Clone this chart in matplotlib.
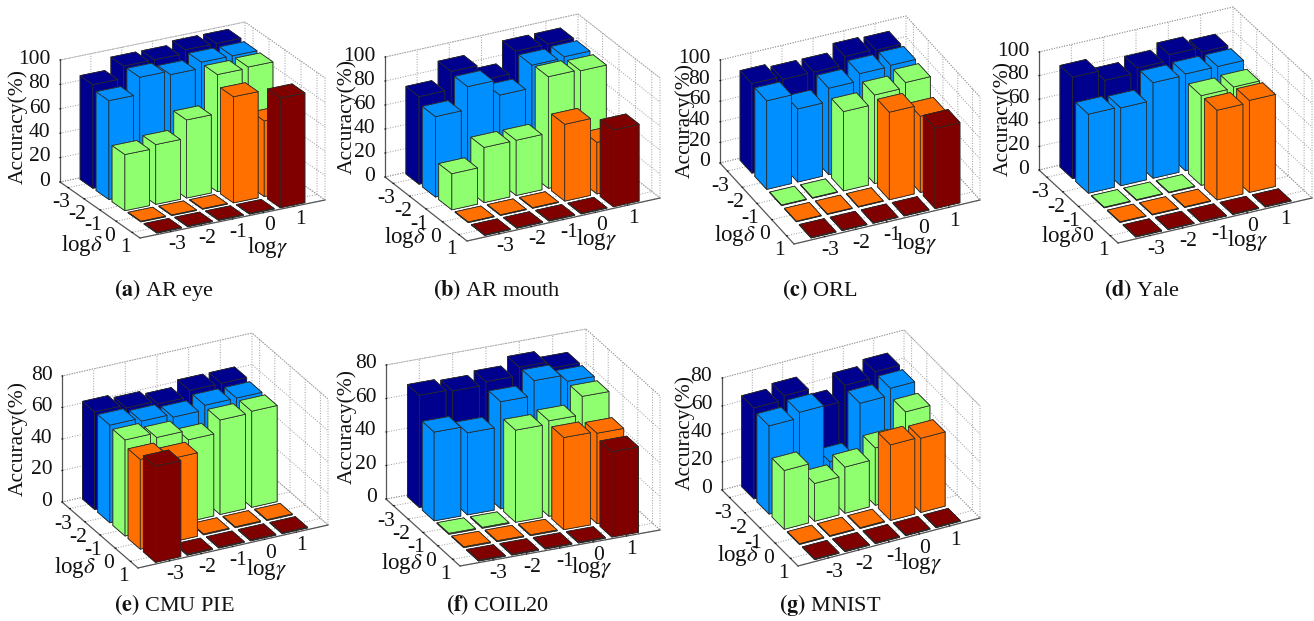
import numpy as np
import matplotlib
matplotlib.use("Agg")
import matplotlib.pyplot as plt
from mpl_toolkits.mplot3d import proj3d

plt.rcParams['font.family'] = ['Liberation Serif', 'DejaVu Serif']
plt.rcParams['mathtext.fontset'] = 'stix'
plt.rcParams['axes.unicode_minus'] = False

W, H = 1314, 621

gamma = [-3, -2, -1, 0, 1]
delta = [-3, -2, -1, 0, 1]
row_colors = ['#00008F', '#008FFF', '#8FFF70', '#FF7000', '#800000']

# rows: delta = -3 .. 1; columns: gamma = -3 .. 1
ar_eye = [[85, 95, 95, 98, 98],
          [81, 95, 92, 97, 97],
          [46, 49, 64, 96, 97],
          [.5, .5, .5, 87, 62],
          [.5, .5, .5, .5, 90]]
ar_mouth = [[73, 88, 75, 93, 93],
            [67, 86, 73, 92, 93],
            [30, 46, 46, 93, 92],
            [.5, .5, .5, 64, 43],
            [.5, .5, .5, .5, 64]]
orl = [[87, 84, 84, 92, 91],
       [86, 71, 84, 91, 92],
       [.5, .5, 77, 86, 91],
       [.5, .5, .5, 85, 74],
       [.5, .5, .5, .5, 78]]
yale = [[86, 77, 81, 86, 82],
        [67, 66, 81, 82, 82],
        [.5, .5, .5, 76, 77],
        [.5, .5, .5, 76, 78],
        [.5, .5, .5, .5, .5]]
cmu_pie = [[62, 60, 58, 62, 62],
           [62, 60, 58, 61, 61],
           [61, 58, 52, 60, 61],
           [57, 53, .5, .5, .5],
           [61, .5, .5, .5, .5]]
coil20 = [[67, 66, 68, 73, 69],
          [53, 49, 64, 73, 69],
          [.5, .5, 55, 57, 68],
          [.5, .5, .5, 55, 54],
          [.5, .5, .5, .5, 51]]
mnist = [[65, 68, 53, 64, 68],
         [63, 67, 26, 62, 67],
         [42, 27, 33, 41, 61],
         [.5, .5, .5, 54, 53],
         [.5, .5, .5, .5, .5]]

Z100 = [0, 20, 40, 60, 80, 100]
Z80 = [0, 20, 40, 60, 80]
panels = [
    dict(v=ar_eye, cap=r'$\mathbf{(a)}$ AR eye', zt=Z100,
         F=(140, 238), L=(60, 182), R=(325, 200), top=60, c=(164, 290),
         ld=(82, 245), lg=(268, 248), lz=(18, 126)),
    dict(v=ar_mouth, cap=r'$\mathbf{(b)}$ AR mouth', zt=Z100,
         F=(467, 241), L=(385, 177), R=(660, 198), top=57, c=(497, 290),
         ld=(405, 238), lg=(597, 240), lz=(347, 117)),
    dict(v=orl, cap=r'$\mathbf{(c)}$ ORL', zt=Z100,
         F=(794, 244), L=(720, 163), R=(980, 200), top=60, c=(820, 290),
         ld=(735, 235), lg=(917, 243), lz=(685, 120)),
    dict(v=yale, cap=r'$\mathbf{(d)}$ Yale', zt=Z100,
         F=(1118, 243), L=(1039, 170), R=(1312, 198), top=52, c=(1142, 290),
         ld=(1062, 237), lg=(1248, 241), lz=(1003, 119)),
    dict(v=cmu_pie, cap=r'$\mathbf{(e)}$ CMU PIE', zt=Z80,
         F=(138, 568), L=(62, 502), R=(328, 525), top=376, c=(174, 605),
         ld=(75, 567), lg=(267, 569), lz=(18, 438)),
    dict(v=coil20, cap=r'$\mathbf{(f)}$ COIL20', zt=Z80,
         F=(460, 566), L=(386, 499), R=(660, 530), top=365, c=(498, 605),
         ld=(402, 563), lg=(592, 568), lz=(347, 427)),
    dict(v=mnist, cap=r'$\mathbf{(g)}$ MNIST', zt=Z80,
         F=(798, 566), L=(722, 490), R=(980, 518), top=378, c=(830, 605),
         ld=(738, 556), lg=(922, 563), lz=(685, 432)),
]

fig = plt.figure(figsize=(W / 100, H / 100), dpi=100, facecolor='white')
XLIM = (-4, 2)
YLIM = (1.5, -3.5)
INK = '#111111'


def corner_px(ax, x, y, z):
    xs, ys, _ = proj3d.proj_transform(x, y, z, ax.get_proj())
    ax.apply_aspect()
    return ax.transData.transform((xs, ys))


def fit_view(ax, p):
    F, L, R = np.array(p['F'], float), np.array(p['L'], float), np.array(p['R'], float)
    vx = (R - F) * (1, -1)
    vy = (L - F) * (1, -1)
    hz = L[1] - p['top']
    t1 = vx[1] / vx[0]
    t2 = vy[1] / -vy[0]
    sin_el = np.sqrt(t1 * t2)
    tan_a = t1 / sin_el
    a = np.arctan(tan_a)
    el = np.arcsin(sin_el)
    lx = vx[0] / np.cos(a)
    ly = -vy[0] / np.sin(a)
    lz = hz / np.cos(el)
    ax.view_init(elev=np.degrees(el), azim=-90 - np.degrees(a))
    ax.set_box_aspect((lx, ly, lz))
    ax.set_xlim(*XLIM)
    ax.set_ylim(*YLIM)
    ax.set_zlim(0, p['zt'][-1])
    # scale and shift the axes box so the floor corners land on the wanted pixels
    S = 400.0
    x0, y0 = 100.0, 100.0
    ax.set_position([x0 / W, y0 / H, S / W, S / H])
    a_px = corner_px(ax, XLIM[0], YLIM[0], 0)
    b_px = corner_px(ax, XLIM[1], YLIM[0], 0)
    k = np.hypot(*vx) / np.hypot(*(b_px - a_px))
    S *= k
    ax.set_position([x0 / W, y0 / H, S / W, S / H])
    a_px = corner_px(ax, XLIM[0], YLIM[0], 0)
    x0 += F[0] - a_px[0]
    y0 += (H - F[1]) - a_px[1]
    ax.set_position([x0 / W, y0 / H, S / W, S / H])


def label_at(xy, s, **kw):
    fig.text(xy[0] / W, 1 - xy[1] / H, s, ha='center', va='center', color=INK, **kw)


for p in panels:
    ax = fig.add_subplot(projection='3d', proj_type='ortho', computed_zorder=False)
    ax.patch.set_alpha(0)
    fit_view(ax, p)
    order = 0
    for i, d in enumerate(delta):
        for j in range(len(gamma) - 1, -1, -1):
            order += 1
            ax.bar3d(gamma[j] - .4, d - .4, 0, .8, .8, p['v'][i][j],
                     color=row_colors[i], shade=False,
                     edgecolor='#2a2a2a', linewidth=.55, zorder=order + 10)
    ax.set_xlim(*XLIM)
    ax.set_ylim(*YLIM)
    ax.set_zlim(0, p['zt'][-1])
    ax.set_xticks(gamma)
    ax.set_yticks(delta)
    ax.set_zticks(p['zt'])
    ax.tick_params(axis='both', labelsize=15.5, colors=INK)
    ax.tick_params(axis='x', pad=0)
    ax.tick_params(axis='y', pad=-4)
    ax.tick_params(axis='z', pad=-4)
    for axis in (ax.xaxis, ax.yaxis, ax.zaxis):
        axis.pane.set_facecolor('white')
        axis.pane.set_alpha(1)
        axis.pane.set_edgecolor('#999999')
        axis.pane.set_linestyle(':')
        axis.pane.set_linewidth(.7)
        axis.line.set_color('#555555')
        axis.line.set_linewidth(.9)
        axis._axinfo['grid'].update(color='#999999', linestyle=':', linewidth=.7)
        axis._axinfo['tick'].update(inward_factor=0.0, outward_factor=0.05)
    for t in ax.xaxis.get_major_ticks():
        t.label1.set_va('center')
    for t in ax.yaxis.get_major_ticks():
        t.label1.set_va('top')
    for t in ax.zaxis.get_major_ticks():
        t.label1.set_va('center')
        t.label1.set_ha('right')
    label_at(p['lg'], r'log$\gamma$', fontsize=16.5)
    label_at(p['ld'], r'log$\delta$', fontsize=16.5)
    label_at(p['lz'], 'Accuracy(%)', fontsize=15.5, rotation=90)
    label_at(p['c'], p['cap'], fontsize=16)

fig.savefig('out.png', dpi=100)
